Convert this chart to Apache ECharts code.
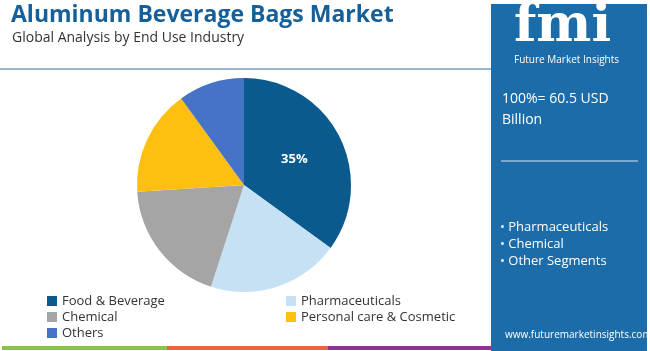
<!DOCTYPE html>
<html>
<head>
<meta charset="utf-8">
<script src="https://cdn.jsdelivr.net/npm/echarts@6/dist/echarts.min.js"></script>
<style>
  html, body { margin: 0; padding: 0; background: #fff; }
  #chart { width: 650px; height: 351px; }
</style>
</head>
<body>
<div id="chart"></div>
<script>
// data
const segments = ['Food & Beverage', 'Pharmaceuticals', 'Chemical', 'Personal care & Cosmetic', 'Others'];
const shares = [35, 20, 19, 16, 10];
const colors = ['#0b5a8e', '#c6e1f4', '#a5a5a5', '#fdc010', '#4673c5'];
const legendLeft = ['Food & Beverage', 'Chemical', 'Others'];
const legendRight = ['Pharmaceuticals', 'Personal care & Cosmetic'];
const panelBullets = ['• Pharmaceuticals', '• Chemical', '• Other Segments'];

const chart = echarts.init(document.getElementById('chart'));

const font = '"Open Sans", "Noto Sans", sans-serif';

const legendStyle = {
  orient: 'vertical',
  top: 288,
  itemWidth: 10,
  itemHeight: 10,
  itemGap: 0,
  icon: 'rect',
  textStyle: { fontSize: 13, color: '#333', lineHeight: 16, fontFamily: font }
};

const option = {
  animation: false,
  color: colors,
  textStyle: { fontFamily: font },
  legend: [
    Object.assign({ data: legendLeft, left: 42 }, legendStyle),
    Object.assign({ data: legendRight, left: 281 }, legendStyle)
  ],
  series: [
    {
      type: 'pie',
      center: [244, 185],
      radius: [0, 107],
      startAngle: 90,
      clockwise: true,
      label: { show: false },
      labelLine: { show: false },
      emphasis: { disabled: true },
      data: segments.map((name, i) => ({
        name: name,
        value: shares[i],
        label: i === 0 ? {
          show: true,
          position: 'inside',
          formatter: '{c}%',
          color: '#fff',
          fontWeight: 'bold',
          fontSize: 13,
          fontFamily: font
        } : { show: false }
      }))
    }
  ],
  graphic: [
    // header
    {
      type: 'text', left: 11, top: 4,
      style: { text: 'Aluminum Beverage Bags Market', fill: '#15609a', font: 'bold 23px ' + font }
    },
    {
      type: 'text', left: 12, top: 31,
      style: { text: 'Global Analysis by End Use Industry', fill: '#333', font: '14px ' + font }
    },
    {
      type: 'line',
      shape: { x1: 0, y1: 69, x2: 491, y2: 69 },
      style: { stroke: '#2e6da4', lineWidth: 1 }
    },
    // right panel
    {
      type: 'rect',
      shape: { x: 491, y: 4, width: 156, height: 347 },
      style: { fill: '#1b6ca8' }
    },
    {
      type: 'text', left: 514, top: 1,
      style: { text: 'fmi', fill: '#fff', font: 'bold 52px "DejaVu Serif", serif' }
    },
    {
      type: 'text', left: 514, top: 55,
      style: { text: 'Future Market Insights', fill: '#fff', font: '10px ' + font }
    },
    {
      type: 'text', left: 502, top: 92,
      style: { text: '100%= 60.5 USD', fill: '#fff', font: '14px ' + font }
    },
    {
      type: 'text', left: 502, top: 113,
      style: { text: 'Billion', fill: '#fff', font: '14px ' + font }
    },
    {
      type: 'line',
      shape: { x1: 501, y1: 161, x2: 638, y2: 161 },
      style: { stroke: '#d9e6f2', lineWidth: 1 }
    },
    {
      type: 'text', left: 500, top: 219,
      style: { text: panelBullets.join('\n'), fill: '#fff', font: '13px ' + font, lineHeight: 17 }
    },
    {
      type: 'text', left: 505, top: 330,
      style: { text: 'www.futuremarketinsights.com', fill: '#fff', font: '10px ' + font }
    },
    // bottom strip
    {
      type: 'rect', shape: { x: 2, y: 346, width: 165, height: 4 },
      style: { fill: '#8bc24c' }
    },
    {
      type: 'rect', shape: { x: 167, y: 346, width: 161, height: 4 },
      style: { fill: '#e8663d' }
    },
    {
      type: 'rect', shape: { x: 328, y: 346, width: 163, height: 4 },
      style: { fill: '#8e3494' }
    }
  ]
};

chart.setOption(option);
</script>
</body>
</html>
